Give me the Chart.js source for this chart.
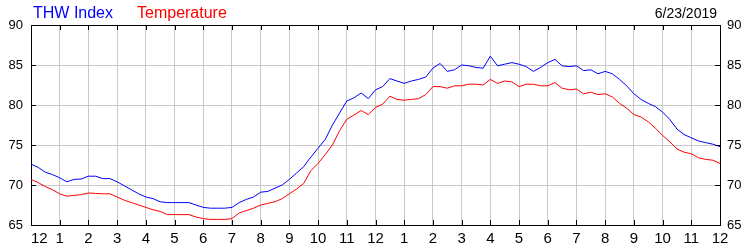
<!DOCTYPE html>
<html>
<head>
<meta charset="utf-8">
<script src="https://cdn.jsdelivr.net/npm/chart.js@4.4.1/dist/chart.umd.min.js"></script>
<style>
  html, body { margin: 0; padding: 0; background: #fff; }
</style>
</head>
<body>
<canvas id="chart" width="750" height="250"></canvas>
<script>
// readings every 15 minutes, midnight to midnight
const stepHours = 0.25;

const thwIndex = [
  72.6, 72.2, 71.6, 71.3, 70.9, 70.4, 70.7, 70.75, 71.1, 71.1, 70.8, 70.8,
  70.4, 69.9, 69.4, 68.9, 68.5, 68.3, 67.9, 67.8, 67.8, 67.8, 67.8, 67.5,
  67.2, 67.1, 67.1, 67.1, 67.2, 67.8, 68.2, 68.5, 69.1, 69.2, 69.6, 70.0,
  70.7, 71.5, 72.3, 73.5, 74.6, 75.7, 77.5, 79.0, 80.5, 80.9, 81.5, 80.8,
  81.9, 82.3, 83.3, 83.0, 82.7, 83.0, 83.2, 83.5, 84.6, 85.2, 84.2, 84.4,
  85.0, 84.9, 84.7, 84.6, 86.1, 84.9, 85.1, 85.3, 85.1, 84.8, 84.2, 84.7,
  85.3, 85.7, 84.9, 84.8, 84.9, 84.3, 84.4, 83.9, 84.2, 83.9, 83.2, 82.4,
  81.4, 80.7, 80.2, 79.8, 79.1, 78.2, 77.0, 76.3, 75.9, 75.5, 75.3, 75.1,
  74.8
];

const temperature = [
  70.7, 70.3, 69.8, 69.4, 68.9, 68.6, 68.7, 68.8, 69.0, 68.95, 68.9, 68.9,
  68.5, 68.1, 67.8, 67.5, 67.2, 66.9, 66.7, 66.3, 66.3, 66.3, 66.3, 66.0,
  65.8, 65.7, 65.7, 65.7, 65.8, 66.5, 66.8, 67.1, 67.5, 67.7, 67.9, 68.3,
  68.9, 69.5, 70.2, 71.8, 72.7, 73.8, 75.0, 76.8, 78.2, 78.75, 79.3, 78.8,
  79.7, 80.1, 81.1, 80.7, 80.6, 80.7, 80.8, 81.3, 82.3, 82.3, 82.1, 82.4,
  82.4, 82.6, 82.6, 82.5, 83.2, 82.7, 83.0, 82.9, 82.3, 82.6, 82.6, 82.4,
  82.4, 82.8, 82.1, 81.9, 82.0, 81.4, 81.6, 81.3, 81.4, 81.0, 80.2, 79.6,
  78.8, 78.5, 77.9, 77.1, 76.2, 75.4, 74.5, 74.1, 73.9, 73.4, 73.2, 73.1,
  72.7
];

const xTickLabels = ['12', '1', '2', '3', '4', '5', '6', '7', '8', '9', '10', '11',
  '12', '1', '2', '3', '4', '5', '6', '7', '8', '9', '10', '11', '12'];
const yMin = 65, yMax = 90, yStep = 5;
const dateLabel = '6/23/2019';

const FONT = 'Arial, "Liberation Sans", sans-serif';

function toPoints(values) {
  return values.map((v, i) => ({ x: i * stepHours, y: v }));
}

// black frame on top, small inward tick marks, header text
const frameTicks = {
  id: 'frameTicks',
  beforeDraw(chart) {
    // first hour label starts at the axis instead of being centred
    const items = chart.scales.x.getLabelItems();
    if (items.length) items[0].options.textAlign = 'left';
  },
  afterDraw(chart) {
    const { ctx, chartArea: a, scales } = chart;
    ctx.save();
    ctx.strokeStyle = '#000';
    ctx.lineWidth = 1;
    ctx.beginPath();
    ctx.moveTo(a.left, Math.round(a.top) + 0.5);
    ctx.lineTo(a.right, Math.round(a.top) + 0.5);
    scales.x.ticks.forEach(t => {
      const px = Math.round(scales.x.getPixelForValue(t.value)) + 0.5;
      ctx.moveTo(px, a.top);
      ctx.lineTo(px, a.top + 5);
      ctx.moveTo(px, a.bottom);
      ctx.lineTo(px, a.bottom - 5);
    });
    scales.y.ticks.forEach(t => {
      const py = Math.round(scales.y.getPixelForValue(t.value)) + 0.5;
      ctx.moveTo(a.left, py);
      ctx.lineTo(a.left + 5, py);
      ctx.moveTo(a.right, py);
      ctx.lineTo(a.right - 5, py);
    });
    ctx.stroke();

    ctx.font = '16px ' + FONT;
    ctx.textBaseline = 'alphabetic';
    ctx.textAlign = 'left';
    ctx.fillStyle = '#0000ff';
    ctx.fillText(chart.data.datasets[0].label, 33, 18);
    ctx.fillStyle = '#ff0000';
    ctx.fillText(chart.data.datasets[1].label, 137, 18);
    ctx.font = '14px ' + FONT;
    ctx.fillStyle = '#000';
    ctx.textAlign = 'right';
    ctx.fillText(dateLabel, 717, 18);
    ctx.restore();
  }
};

const ctx = document.getElementById('chart').getContext('2d');

new Chart(ctx, {
  type: 'line',
  data: {
    datasets: [
      {
        label: 'THW Index',
        data: toPoints(thwIndex),
        borderColor: '#0000ff',
        borderWidth: 1,
        pointRadius: 0,
        tension: 0,
        yAxisID: 'y'
      },
      {
        label: 'Temperature',
        data: toPoints(temperature),
        borderColor: '#ff0000',
        borderWidth: 1,
        pointRadius: 0,
        tension: 0,
        yAxisID: 'y'
      }
    ]
  },
  options: {
    responsive: false,
    animation: false,
    layout: { padding: { top: 25, left: 0, right: 0, bottom: 0 } },
    plugins: {
      legend: { display: false },
      tooltip: { enabled: false }
    },
    scales: {
      x: {
        type: 'linear',
        min: 0,
        max: 24,
        grid: { color: '#c8c8c8', drawTicks: false },
        border: { color: '#000', width: 1 },
        ticks: {
          stepSize: 1,
          autoSkip: false,
          maxRotation: 0,
          padding: 5,
          color: '#000',
          font: { family: FONT, size: 15 },
          callback: v => xTickLabels[v]
        },
        afterFit(scale) { scale.height = 25; }
      },
      y: {
        position: 'left',
        min: yMin,
        max: yMax,
        grid: { color: '#c8c8c8', drawTicks: false },
        border: { color: '#000', width: 1 },
        ticks: {
          stepSize: yStep,
          padding: 8,
          color: '#000',
          font: { family: FONT, size: 13 }
        },
        afterFit(scale) { scale.width = 31; }
      },
      y2: {
        position: 'right',
        min: yMin,
        max: yMax,
        grid: { drawOnChartArea: false, drawTicks: false },
        border: { color: '#000', width: 1 },
        ticks: {
          stepSize: yStep,
          padding: 7,
          color: '#000',
          font: { family: FONT, size: 13 }
        },
        afterFit(scale) { scale.width = 30; }
      }
    }
  },
  plugins: [frameTicks]
});
</script>
</body>
</html>
